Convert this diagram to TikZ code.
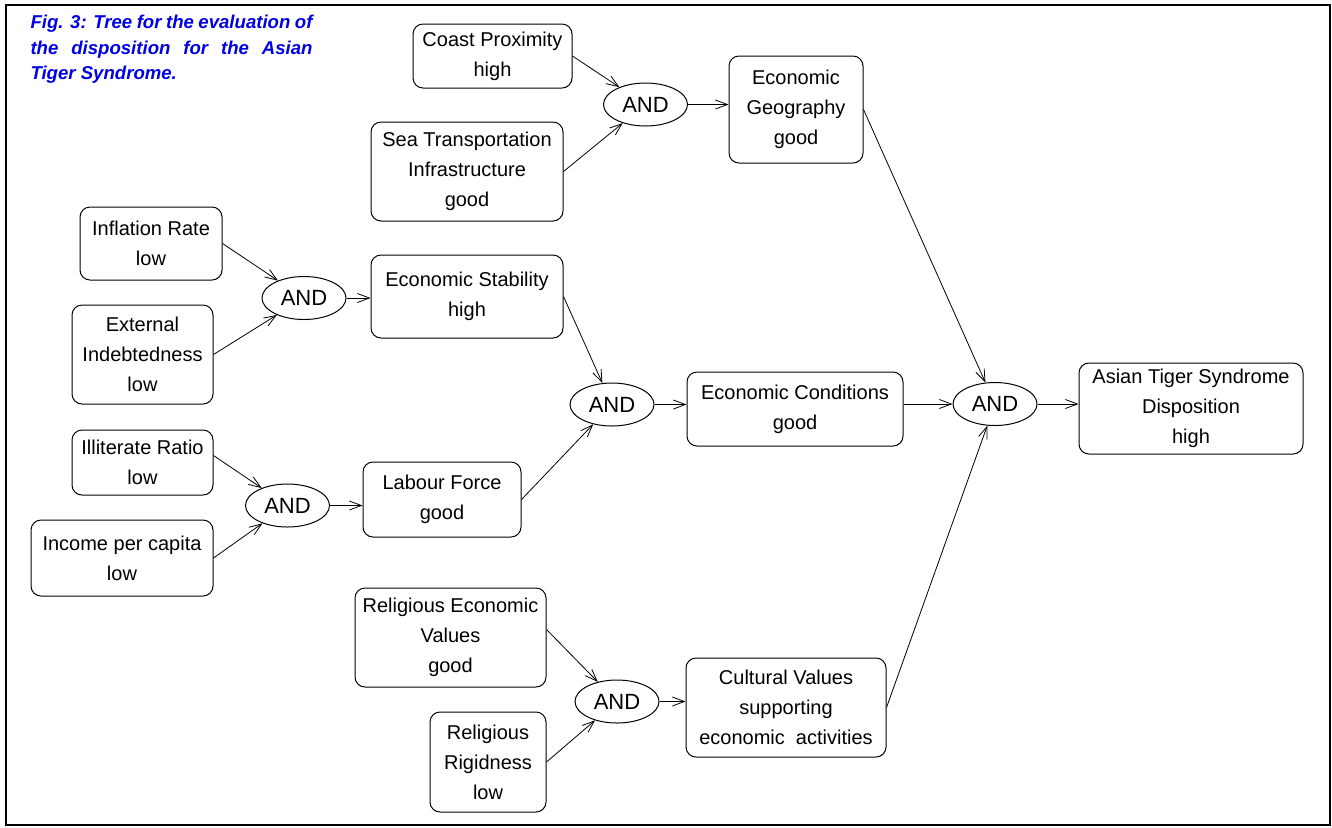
\documentclass[tikz,border=0pt]{standalone}
\usepackage{fontspec}
\setmainfont{Liberation Sans}
\usetikzlibrary{shapes.geometric,arrows.meta}
\definecolor{captionblue}{RGB}{0,0,230}
\tikzset{
  factor/.style={draw, rounded corners=5pt, align=center, inner sep=2pt,
    font=\fontsize{10}{15}\selectfont},
  andnode/.style={draw, ellipse, inner sep=0pt, minimum width=42pt,
    minimum height=21.5pt, font=\fontsize{11}{13}\selectfont},
  arr/.style={-{Straight Barb[length=6pt,width=4.5pt]}, line width=0.4pt}
}
\newlength{\capw}
\setlength{\capw}{141pt}
\begin{document}
\begin{tikzpicture}[x=0.5pt,y=-0.5pt,line width=0.5pt]
\useasboundingbox (0,0) rectangle (1332,827);
\draw [line width=0.8pt] (6,5) rectangle (1330,825);
\node [anchor=north west, inner sep=0pt, align=left, text=captionblue,
  font=\fontsize{9.3}{12.75}\selectfont\bfseries\itshape] (caption) at (30,15)
  {\makebox[\capw][s]{Fig. 3: Tree for the evaluation of}\\
   \makebox[\capw][s]{the disposition for the Asian}\\
   Tiger Syndrome.};
\node [factor, minimum width=79.5pt, minimum height=32pt] (cp) at (492.5,56) {Coast Proximity\\high};
\node [factor, minimum width=96pt, minimum height=49.5pt] (sea) at (467,171.5) {Sea Transportation\\Infrastructure\\good};
\node [factor, minimum width=67pt, minimum height=53.5pt] (eg) at (796,109.5) {Economic\\Geography\\good};
\node [factor, minimum width=71pt, minimum height=36.5pt] (ir) at (151,243.5) {Inflation Rate\\low};
\node [factor, minimum width=70.5pt, minimum height=49.5pt] (ei) at (142.5,354.5) {External\\Indebtedness\\low};
\node [factor, minimum width=96pt, minimum height=41.5pt] (es) at (467,296.5) {Economic Stability\\high};
\node [factor, minimum width=108pt, minimum height=37pt] (ec) at (795,409) {Economic Conditions\\good};
\node [factor, minimum width=112pt, minimum height=45.5pt] (atsd) at (1191,408.5) {Asian Tiger Syndrome\\Disposition\\high};
\node [factor, minimum width=70.5pt, minimum height=32.5pt] (il) at (142.5,462.5) {Illiterate Ratio\\low};
\node [factor, minimum width=91pt, minimum height=38pt] (ipc) at (122,558) {Income per capita\\low};
\node [factor, minimum width=79pt, minimum height=37.5pt] (lf) at (442,499.5) {Labour Force\\good};
\node [factor, minimum width=95.5pt, minimum height=49.5pt] (rev) at (450.5,637.5) {Religious Economic\\Values\\good};
\node [factor, minimum width=58pt, minimum height=50pt] (rr) at (488,762) {Religious\\Rigidness\\low};
\node [factor, minimum width=100pt, minimum height=49.5pt] (cv) at (786,707.5) {Cultural Values\\supporting\\economic\ \ activities};
\node [andnode] (and1) at (645.5,104.5) {AND};
\node [andnode] (and2) at (304,298) {AND};
\node [andnode] (and3) at (612,404.5) {AND};
\node [andnode] (and4) at (995,404) {AND};
\node [andnode] (and5) at (287.5,505.5) {AND};
\node [andnode] (and6) at (617,701.5) {AND};
\draw [arr] (cp.east) -- (and1);
\draw [arr] (sea.east) -- (and1);
\draw [arr] (and1.east) -- (and1.east -| eg.west);
\draw [arr] (ir.east) -- (and2);
\draw [arr] (ei.east) -- (and2);
\draw [arr] (and2.east) -- (and2.east -| es.west);
\draw [arr] ([yshift=3.5pt]il.east) -- (and5);
\draw [arr] (ipc.east) -- (and5);
\draw [arr] (and5.east) -- (and5.east -| lf.west);
\draw [arr] (es.east) -- (and3);
\draw [arr] (lf.east) -- (and3);
\draw [arr] (and3.east) -- (and3.east -| ec.west);
\draw [arr] ([yshift=4pt]rev.east) -- (and6);
\draw [arr] (rr.east) -- (and6);
\draw [arr] (and6.east) -- (and6.east -| cv.west);
\draw [arr] (eg.east) -- (and4);
\draw [arr] (and4.west -| ec.east) -- (and4.west);
\draw [arr] (cv.east) -- (and4);
\draw [arr] (and4.east) -- (and4.east -| atsd.west);
\end{tikzpicture}
\end{document}
